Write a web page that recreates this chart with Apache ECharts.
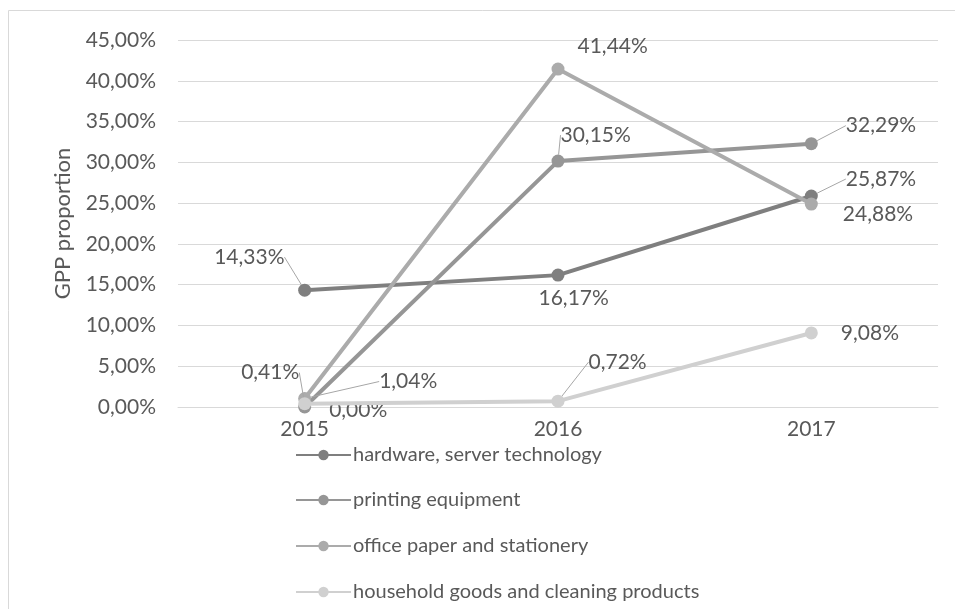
<!DOCTYPE html>
<html lang="en">
<head>
    <meta charset="UTF-8">
    <title>GPP proportion</title>
    <script src="https://cdn.jsdelivr.net/npm/echarts@6/dist/echarts.min.js"></script>
</head>
<body style="margin: 0; background: #ffffff">
<div id="chart" style="width: 955px; height: 609px"></div>

<script>
    // chart data
    const years = ['2015', '2016', '2017'];
    const seriesNames = [
        'hardware, server technology',
        'printing equipment',
        'office paper and stationery',
        'household goods and cleaning products'
    ];
    const hardware = [14.33, 16.17, 25.87];
    const printing = [0.00, 30.15, 32.29];
    const officePaper = [1.04, 41.44, 24.88];
    const household = [0.41, 0.72, 9.08];
    const yTicks = { min: 0, max: 45, step: 5 };

    const colors = ['#7f7f7f', '#969696', '#ababab', '#d0d0d0'];
    // label nudges [dx, dy] per series / point, plus whether a leader line shows
    const nudges = [
        [[-102, -33, true], [-31, 23, false], [23, -17, true]],
        [[13, 3, false], [-9, -26, true], [23, -18, true]],
        [[63, -17, true], [8, -23, false], [20, 10, false]],
        [[-75, -31, true], [19, -39, true], [18, 0, false]]
    ];
    // one legend block per entry, stacked under the plot
    const legendTops = [440, 485, 531, 577];

    const fmt = v => v.toFixed(2).replace('.', ',') + '%';
    const fontFamily = 'Lato, "Noto Sans", sans-serif';

    let chart = echarts.init(document.getElementById('chart'));

    let allValues = [hardware, printing, officePaper, household];
    let series = allValues.map((vals, si) => ({
        name: seriesNames[si],
        type: 'line',
        symbol: 'circle',
        symbolSize: 13,
        lineStyle: { width: 4, color: colors[si] },
        itemStyle: { color: colors[si] },
        data: vals.map((v, di) => ({
            value: v,
            labelLine: { show: nudges[si][di][2] }
        })),
        label: {
            show: true,
            position: 'right',
            distance: 5,
            formatter: p => fmt(p.value),
            color: '#595959',
            fontSize: 21,
            fontFamily: fontFamily
        },
        labelLine: {
            lineStyle: { color: '#a6a6a6', width: 1 }
        },
        labelLayout: function (params) {
            let n = nudges[si][params.dataIndex];
            return { dx: n[0], dy: n[1] };
        },
        z: 2 + si
    }));

    let legends = seriesNames.map((name, i) => ({
        orient: 'vertical',
        left: 290,
        top: legendTops[i],
        itemWidth: 55,
        itemHeight: 13,
        data: [name],
        textStyle: { color: '#595959', fontSize: 20, fontFamily: fontFamily, padding: [0, 0, 0, -3] }
    }));

    let option = {
        animation: false,
        color: colors,
        graphic: [{
            type: 'rect',
            shape: { x: 8.5, y: 10.5, width: 960, height: 620 },
            style: { fill: 'none', stroke: '#d9d9d9', lineWidth: 1 },
            silent: true
        }],
        grid: { left: 178, right: 17, top: 40, bottom: 202 },
        legend: legends,
        xAxis: {
            type: 'category',
            data: years,
            boundaryGap: true,
            axisLine: { lineStyle: { color: '#d9d9d9' } },
            axisTick: { show: false },
            axisLabel: { color: '#595959', fontSize: 21, fontFamily: fontFamily, margin: 12 }
        },
        yAxis: {
            type: 'value',
            min: yTicks.min,
            max: yTicks.max,
            interval: yTicks.step,
            name: 'GPP proportion',
            nameLocation: 'middle',
            nameGap: 104,
            nameTextStyle: { color: '#595959', fontSize: 22, fontFamily: fontFamily },
            axisLine: { show: false },
            axisTick: { show: false },
            splitLine: { lineStyle: { color: '#d9d9d9' } },
            axisLabel: {
                color: '#595959',
                fontSize: 21,
                fontFamily: fontFamily,
                margin: 22,
                formatter: v => fmt(v)
            }
        },
        series: series
    };

    chart.setOption(option);
</script>
</body>
</html>
